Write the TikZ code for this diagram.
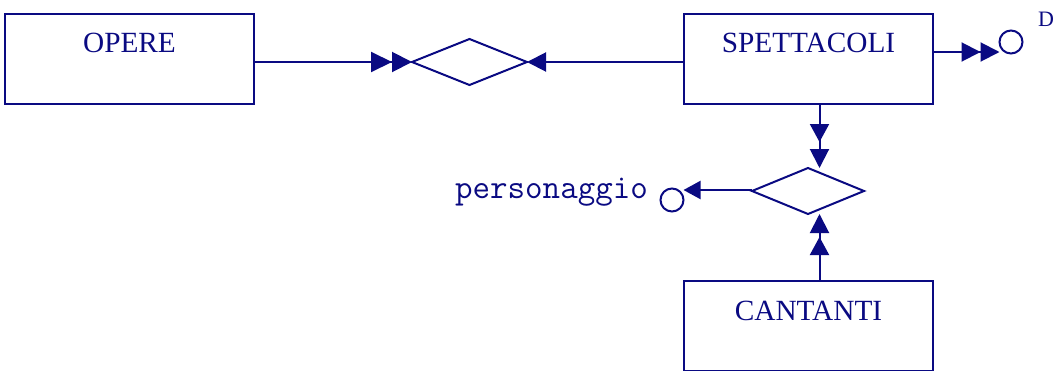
\documentclass[tikz,border=0pt]{standalone}
\usepackage{fontspec}
\setmainfont{Liberation Serif}
\usetikzlibrary{shapes.geometric,arrows.meta}
\definecolor{erblue}{RGB}{10,10,130}
\tikzset{
  entity/.style={draw=erblue, line width=2pt, rectangle, minimum width=249pt, minimum height=90pt, inner sep=0pt, outer sep=0pt},
  ename/.style={text=erblue, font=\fontsize{29.3}{30}\selectfont, inner sep=0pt, anchor=base},
  rel/.style={draw=erblue, line width=2pt, diamond, inner sep=0pt, outer sep=0pt},
  attr/.style={draw=erblue, line width=2pt, circle, minimum size=23pt, inner sep=0pt, outer sep=0pt},
  aname/.style={text=erblue, inner sep=0pt},
  conn/.style={draw=erblue, line width=2pt}
}
\begin{document}
\begin{tikzpicture}[x=1pt,y=-1pt]
\useasboundingbox (0,0) rectangle (1053,370);
% entities
\node[entity] (opere) at (129.5,59) {};
\node[ename] (opere-t) at ([yshift=-38pt]opere.north) {OPERE};
\node[entity] (spet) at (808.5,59) {};
\node[ename] (spet-t) at ([yshift=-38pt]spet.north) {SPETTACOLI};
\node[entity] (cant) at (808.5,326) {};
\node[ename] (cant-t) at ([yshift=-39pt]cant.north) {CANTANTI};
% relationships
\node[rel, minimum width=115pt, minimum height=46pt] (d1) at (469.5,62) {};
\node[rel, minimum width=112pt, minimum height=46pt] (d2) at (808,191) {};
% attributes
\node[attr] (c1) at (1011,42) {};
\node[aname, anchor=base west, font=\fontsize{22}{23}\selectfont] (c1-t) at (1038,26.5) {D};
\node[attr] (c2) at (672,200) {};
\node[aname, anchor=base east, font=\ttfamily\fontsize{34}{35}\selectfont] (c2-t) at (648,198) {personaggio};
% connectors
\draw[conn, -{Triangle[length=21pt,width=20pt,sep=0pt] Triangle[length=20pt,width=20pt]}, color=erblue]
  (opere.east |- d1.west) -- (d1.west);
\draw[conn, -{Triangle[length=19pt,width=19pt]}, color=erblue]
  (spet.west |- d1.east) -- (d1.east);
\draw[conn, -{Triangle[length=19pt,width=19pt,sep=0pt] Triangle[length=19pt,width=19pt]}, color=erblue]
  ([yshift=7pt]spet.east) -- ([yshift=7pt]spet.east -| c1.west);
\draw[conn, -{Triangle[length=18pt,width=19pt,sep=7pt] Triangle[length=19pt,width=19pt]}, color=erblue]
  ([xshift=11pt]spet.south) -- ([xshift=11pt]spet.south |- d2.north);
\draw[conn, -{Triangle[length=18pt,width=19pt,sep=4pt] Triangle[length=19pt,width=19pt]}, color=erblue]
  ([xshift=11pt]cant.north) -- ([xshift=11pt]cant.north |- d2.south);
\draw[conn, -{Triangle[length=17pt,width=18pt]}, color=erblue]
  ([yshift=1pt]d2.west) -- ([yshift=1pt]d2.west -| c2.east);
\end{tikzpicture}
\end{document}
